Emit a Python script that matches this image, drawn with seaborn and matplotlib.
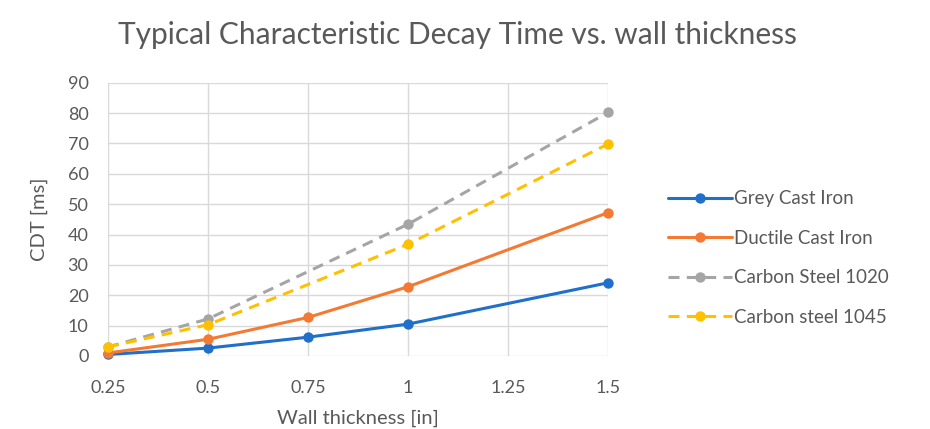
import matplotlib
matplotlib.use("Agg")
import matplotlib.pyplot as plt
from matplotlib.lines import Line2D
import seaborn as sns
import pandas as pd
import numpy as np

# ---- data ----
thickness_grey = [0.25, 0.5, 0.75, 1.0, 1.5]
grey_cast_iron = [0.5, 2.6, 6.2, 10.5, 24.1]

thickness_ductile = [0.25, 0.5, 0.75, 1.0, 1.5]
ductile_cast_iron = [1.0, 5.5, 12.7, 22.8, 47.2]

thickness_steel = [0.25, 0.5, 1.0, 1.5]
carbon_steel_1020 = [3.0, 12.2, 43.4, 80.2]
carbon_steel_1045 = [3.0, 10.3, 36.8, 69.8]

series_names = ["Grey Cast Iron", "Ductile Cast Iron", "Carbon Steel 1020", "Carbon steel 1045"]
x_ticks = [0.25, 0.5, 0.75, 1.0, 1.25, 1.5]
x_tick_labels = ["0.25", "0.5", "0.75", "1", "1.25", "1.5"]
y_ticks = [0, 10, 20, 30, 40, 50, 60, 70, 80, 90]

colors = ["#1F6FCB", "#F47A33", "#A5A5A5", "#FFC000"]

frames = [
    pd.DataFrame({"x": thickness_grey, "y": grey_cast_iron, "s": series_names[0]}),
    pd.DataFrame({"x": thickness_ductile, "y": ductile_cast_iron, "s": series_names[1]}),
    pd.DataFrame({"x": thickness_steel, "y": carbon_steel_1020, "s": series_names[2]}),
    pd.DataFrame({"x": thickness_steel, "y": carbon_steel_1045, "s": series_names[3]}),
]

sns.set_style("white")
plt.rcParams["font.family"] = ["Lato", "DejaVu Sans"]
text_color = "#595959"

fig = plt.figure(figsize=(9.3, 4.29), dpi=100)
ax = fig.add_axes([108 / 930, 1 - 356 / 429, 500 / 930, (356 - 82.7) / 429])

dash = (3.6, 2.4)
styles = [None, None, dash, dash]
for df, c, st in zip(frames, colors, styles):
    kw = dict(data=df, x="x", y="y", ax=ax, color=c, linewidth=2.2,
              marker="o", markersize=7.5, markeredgewidth=0, legend=False,
              estimator=None, sort=True)
    line_ax = sns.lineplot(**kw)
    if st is not None:
        line_ax.lines[-1].set_dashes(st)
    line_ax.lines[-1].set_clip_on(False)
    line_ax.lines[-1].set_zorder(3)

ax.set_xlim(0.25, 1.5)
ax.set_ylim(0, 90)
ax.set_xticks(x_ticks)
ax.set_xticklabels(x_tick_labels)
ax.set_yticks(y_ticks)
ax.grid(True, color="#D9D9D9", linewidth=1.0)
for sp in ax.spines.values():
    sp.set_visible(False)
ax.tick_params(axis="both", length=0, labelsize=13, colors=text_color)
ax.tick_params(axis="x", pad=17)
ax.tick_params(axis="y", pad=14)

ax.set_xlabel("Wall thickness [in]", fontsize=14.5, color=text_color, labelpad=10)
ax.set_ylabel("CDT [ms]", fontsize=14.5, color=text_color, labelpad=14)

fig.text(457 / 930, 1 - 35 / 429, "Typical Characteristic Decay Time vs. wall thickness",
         ha="center", va="center", fontsize=21.5, color=text_color)

handles = []
for c, st in zip(colors, styles):
    h = Line2D([0], [0], color=c, linewidth=2.2, marker="o", markersize=7.5,
               markeredgewidth=0)
    if st is not None:
        h.set_dashes(st)
    handles.append(h)
leg = fig.legend(handles, series_names, loc="center left",
                 bbox_to_anchor=(651 / 930, 1 - 258 / 429), frameon=False,
                 fontsize=13.5, handlelength=3.4, handletextpad=0.15,
                 labelspacing=1.2, labelcolor=text_color)

fig.savefig("out.png", dpi=100)
